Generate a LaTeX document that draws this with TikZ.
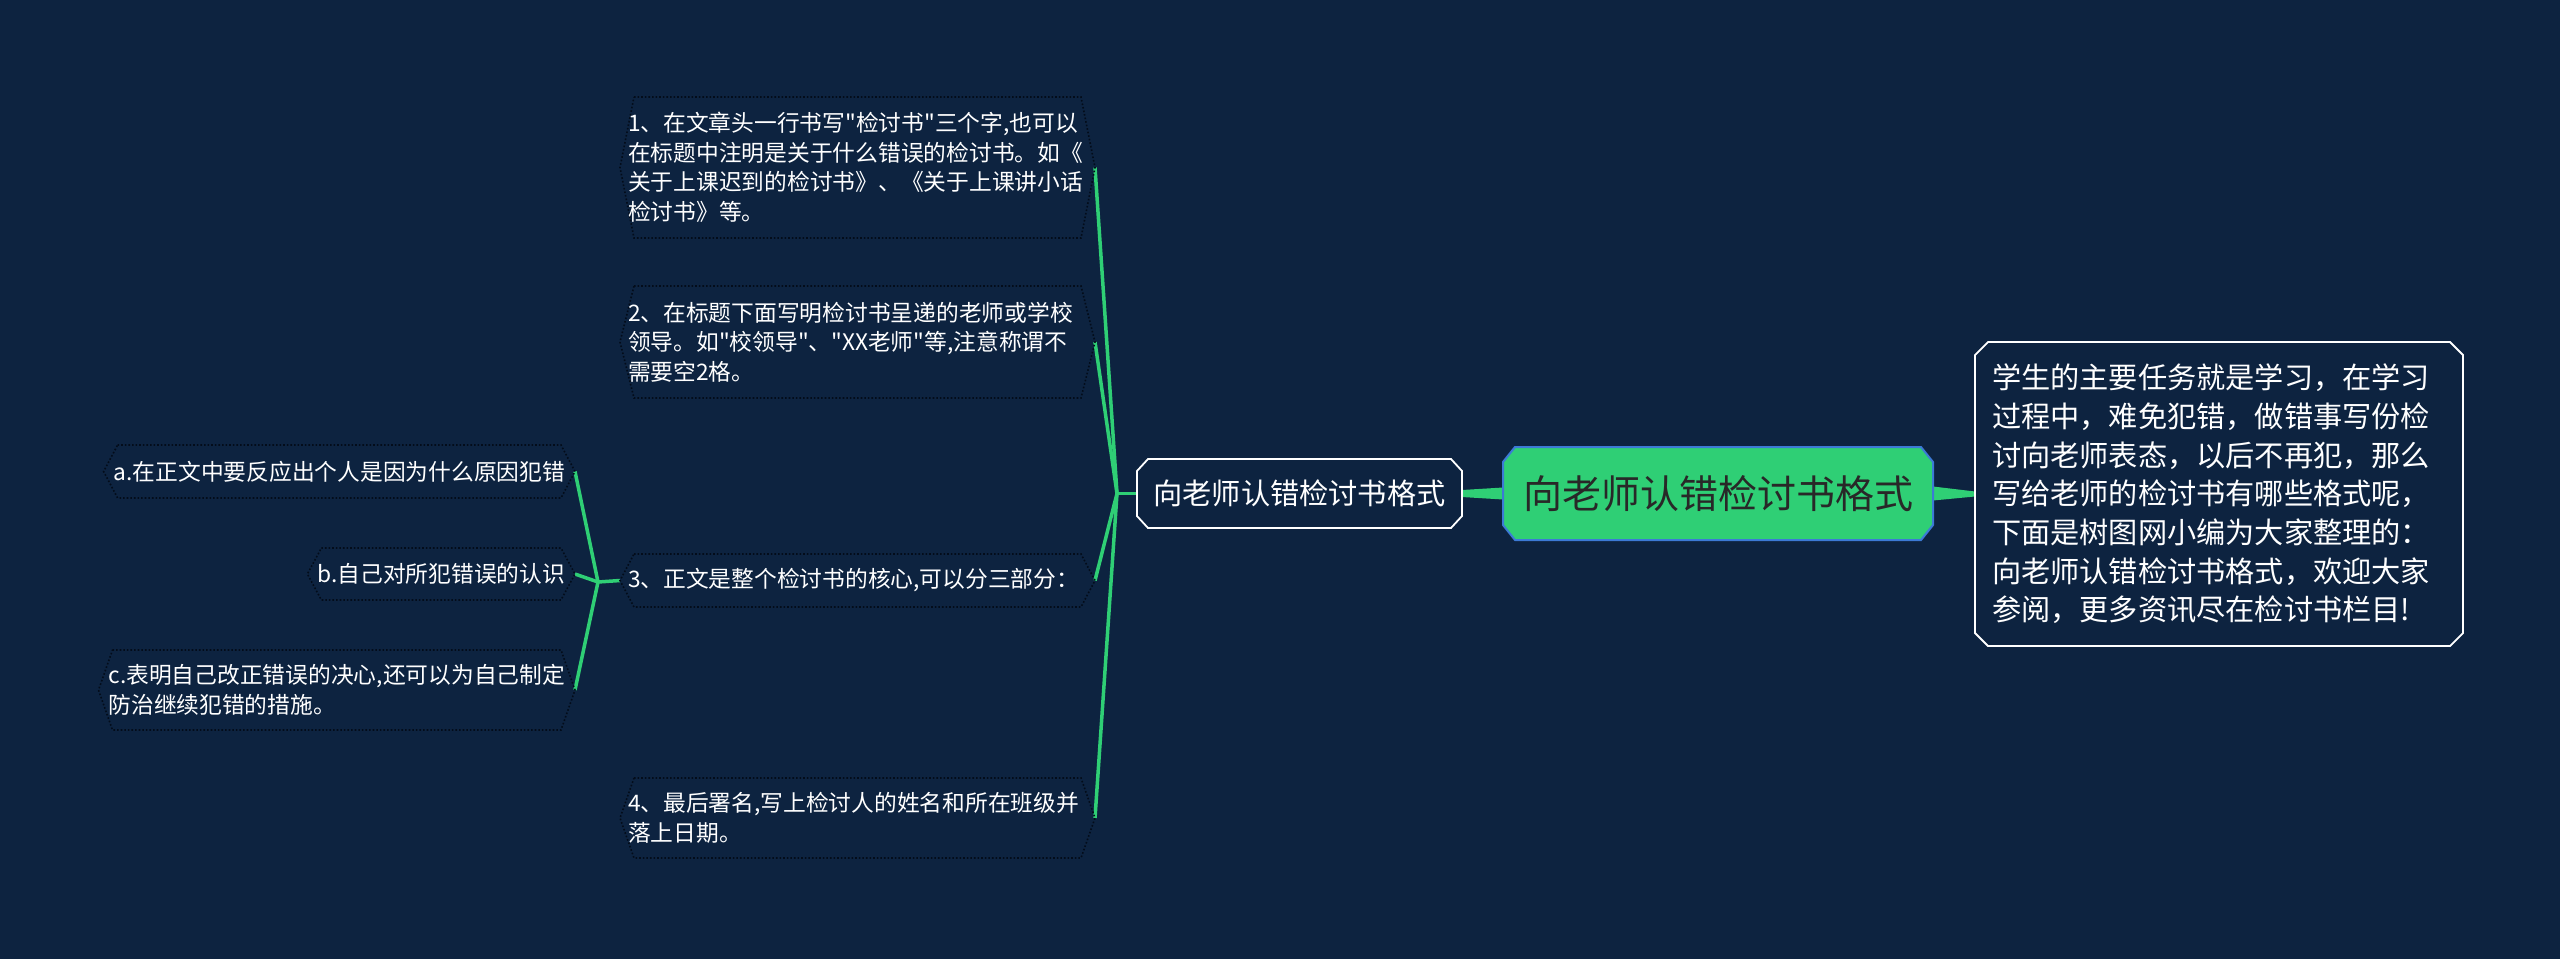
\documentclass[tikz,border=0pt]{standalone}
\usepackage{fontspec}
\newfontfamily\cjk{Noto Sans CJK SC}
\usetikzlibrary{backgrounds}
\definecolor{bg}{RGB}{13,35,64}
\definecolor{mgreen}{RGB}{47,207,117}
\definecolor{mblue}{RGB}{60,122,214}
\definecolor{dotc}{RGB}{3,12,26}
\definecolor{roottext}{RGB}{40,40,40}
\begin{document}
\begin{tikzpicture}[x=1pt,y=-1pt,
  every node/.style={inner sep=0pt, outer sep=0pt},
  leafbox/.style={rectangle, font=\cjk\fontsize{22.75}{29.5}\selectfont, text=white, align=left},
  rightleaf/.style={leafbox, text width=459pt, inner xsep=8pt, anchor=west},
  leftleaf/.style={leafbox, inner xsep=10pt, anchor=east},
  conn/.style={draw=mgreen, line width=3.5pt},
  hexline/.style={draw=dotc, line width=1.6pt, dotted},
  frameline/.style={draw=white, line width=1.8pt, fill=bg},
]
\useasboundingbox (0,0) rectangle (2560,959);

% main nodes
\node[font=\cjk\fontsize{39}{46}\selectfont, text=roottext, minimum width=430pt, minimum height=93pt] (root) at (1718,493.5) {向老师认错检讨书格式};
\node[font=\cjk\fontsize{29.2}{36}\selectfont, text=white, minimum width=325pt, minimum height=69pt] (branch) at (1299.5,493.5) {向老师认错检讨书格式};
\node[font=\cjk\fontsize{29.2}{38.7}\selectfont, text=white, align=left, text width=454pt, inner xsep=17pt, minimum height=304pt, anchor=west] (desc) at (1975,494) {学生的主要任务就是学习，在学习\\过程中，难免犯错，做错事写份检\\讨向老师表态，以后不再犯，那么\\写给老师的检讨书有哪些格式呢，\\下面是树图网小编为大家整理的：\\向老师认错检讨书格式，欢迎大家\\参阅，更多资讯尽在检讨书栏目!};

% children
\node[rightleaf, minimum height=141pt] (c1) at (620,167.5) {1、在文章头一行书写"检讨书"三个字,也可以\\在标题中注明是关于什么错误的检讨书。如《\\关于上课迟到的检讨书》、《关于上课讲小话\\检讨书》等。};
\node[rightleaf, minimum height=112pt] (c2) at (620,342) {2、在标题下面写明检讨书呈递的老师或学校\\领导。如"校领导"、"XX老师"等,注意称谓不\\需要空2格。};
\node[rightleaf, minimum height=53pt] (c3) at (620,580.5) {3、正文是整个检讨书的核心,可以分三部分：};
\node[rightleaf, minimum height=80pt] (c4) at (620,818) {4、最后署名,写上检讨人的姓名和所在班级并\\落上日期。};

% sub children
\node[leftleaf, minimum height=53pt] (s1) at (575,471.5) {a.在正文中要反应出个人是因为什么原因犯错};
\node[leftleaf, minimum height=52pt] (s2) at (575,574) {b.自己对所犯错误的认识};
\node[leftleaf, minimum height=80pt] (s3) at (575,690) {c.表明自己改正错误的决心,还可以为自己制定\\防治继续犯错的措施。};

\coordinate (J) at (1117,493.5);
\coordinate (K) at (598,582);

\begin{scope}[on background layer]
\fill[bg] (0,0) rectangle (2560,959);
% connectors
\fill[mgreen] ([yshift=6pt]root.west) -- ([yshift=3.5pt]branch.east) -- ([yshift=-3.5pt]branch.east) -- ([yshift=-6pt]root.west) -- cycle;
\fill[mgreen] ([yshift=7pt]root.east) -- ([yshift=2.5pt]desc.west) -- ([yshift=-2.5pt]desc.west) -- ([yshift=-7pt]root.east) -- cycle;
\draw[conn] (branch.west) -- (J);
\foreach \c in {c1,c2,c3,c4} \draw[conn] (J) -- (\c.east);
\draw[conn] (c3.west) -- (K);
\foreach \s in {s1,s2,s3} \draw[conn] (K) -- (\s.east);
% shapes
\filldraw[fill=mgreen, draw=mblue, line width=2pt] ([xshift=12pt]root.north west) -- ([xshift=-12pt]root.north east) -- ([yshift=-15pt]root.north east) -- ([yshift=15pt]root.south east) -- ([xshift=-12pt]root.south east) -- ([xshift=12pt]root.south west) -- ([yshift=15pt]root.south west) -- ([yshift=-15pt]root.north west) -- cycle;
\path[frameline] ([xshift=11pt]branch.north west) -- ([xshift=-11pt]branch.north east) -- ([yshift=-12pt]branch.north east) -- ([yshift=12pt]branch.south east) -- ([xshift=-11pt]branch.south east) -- ([xshift=11pt]branch.south west) -- ([yshift=12pt]branch.south west) -- ([yshift=-12pt]branch.north west) -- cycle;
\path[frameline] ([xshift=13pt]desc.north west) -- ([xshift=-13pt]desc.north east) -- ([yshift=-13pt]desc.north east) -- ([yshift=13pt]desc.south east) -- ([xshift=-13pt]desc.south east) -- ([xshift=13pt]desc.south west) -- ([yshift=13pt]desc.south west) -- ([yshift=-13pt]desc.north west) -- cycle;
\foreach \n in {c1,c2,c3,c4,s1,s2,s3}
  \draw[hexline] ([xshift=14pt]\n.north west) -- ([xshift=-14pt]\n.north east) -- (\n.east) -- ([xshift=-14pt]\n.south east) -- ([xshift=14pt]\n.south west) -- (\n.west) -- cycle;
\end{scope}
\end{tikzpicture}
\end{document}
